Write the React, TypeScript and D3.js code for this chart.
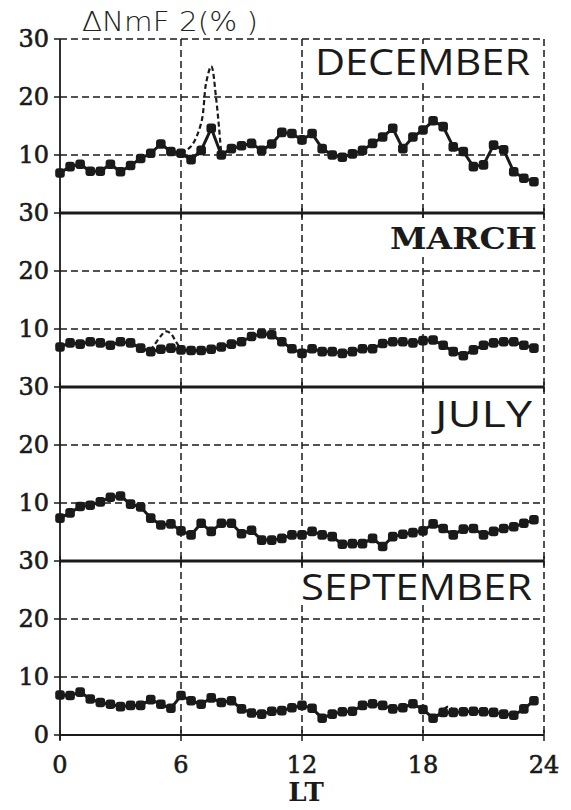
import React from 'react';
import * as d3 from 'd3';

// sample times (LT, hours)
const HOURS = [
  0, 0.5, 1, 1.5, 2, 2.5, 3, 3.5, 4, 4.5, 5, 5.5, 6, 6.5, 7, 7.5, 8, 8.5, 9, 9.5, 10, 10.5, 11, 11.5,
  12, 12.5, 13, 13.5, 14, 14.5, 15, 15.5, 16, 16.5, 17, 17.5, 18, 18.5, 19, 19.5, 20, 20.5, 21, 21.5,
  22, 22.5, 23, 23.5,
];

const DECEMBER = [
  6.9, 8.0, 8.4, 7.2, 7.2, 8.4, 7.1, 8.2, 9.4, 10.3, 11.9, 10.6, 10.3, 9.2, 10.8, 14.6, 10.0, 11.1, 11.6, 12.0,
  10.8, 11.9, 13.9, 13.7, 12.6, 13.7, 11.1, 10.0, 9.6, 10.2, 10.8, 12.0, 13.1, 14.6, 11.1, 13.1, 14.3, 15.9,
  14.9, 11.4, 10.6, 8.0, 8.3, 11.7, 10.9, 7.1, 6.0, 5.4,
];
const MARCH = [
  6.9, 7.6, 7.4, 7.8, 7.6, 7.2, 7.8, 7.6, 6.7, 6.1, 6.5, 6.7, 6.4, 6.3, 6.3, 6.5, 6.9, 7.4, 7.8, 8.7,
  9.2, 9.0, 7.8, 6.6, 5.8, 6.6, 6.1, 6.1, 5.8, 6.1, 6.6, 6.6, 7.5, 7.8, 7.8, 7.6, 8.0, 8.1,
  7.2, 6.1, 5.4, 6.4, 7.2, 7.6, 7.8, 7.8, 7.2, 6.7,
];
const JULY = [
  7.4, 8.3, 9.4, 9.6, 10.2, 11.0, 11.2, 9.8, 9.3, 7.4, 6.2, 6.4, 5.2, 4.5, 6.5, 5.1, 6.5, 6.5, 4.7, 5.3,
  3.6, 3.6, 3.9, 4.5, 4.5, 5.1, 4.5, 4.2, 2.9, 3.0, 3.0, 3.9, 2.5, 4.2, 4.6, 4.9, 5.2, 6.4,
  5.6, 4.5, 5.5, 5.6, 4.5, 5.1, 5.6, 5.9, 6.5, 7.1,
];
const SEPTEMBER = [
  6.9, 6.8, 7.4, 6.2, 5.6, 5.3, 4.9, 5.1, 5.1, 6.1, 5.3, 4.6, 6.8, 5.9, 5.3, 6.4, 5.6, 5.9, 4.5, 3.8,
  3.6, 4.1, 4.2, 4.7, 5.1, 4.6, 2.9, 3.6, 4.0, 4.1, 5.1, 5.4, 5.1, 4.5, 4.7, 5.4, 4.4, 2.9,
  3.9, 3.9, 4.0, 4.1, 4.0, 3.9, 3.6, 3.4, 4.5, 5.9,
];

// dashed curve where it leaves the dotted one
const DEC_DASH_H = [6.0, 6.5, 7.0, 7.25, 7.5, 7.75, 8.0];
const DEC_DASH_V = [10.3, 11.5, 15.5, 22.5, 25.3, 19.5, 10.0];
const MAR_DASH_H = [4.5, 5.0, 5.25, 5.5, 5.75, 6.0];
const MAR_DASH_V = [6.3, 8.8, 9.6, 9.2, 7.8, 6.5];
const SEP_DASH_H = [18.75, 19.25, 19.6];
const SEP_DASH_V = [3.5, 4.9, 3.9];
const SEP_DASH2_H = [23.5, 23.75];
const SEP_DASH2_V = [5.9, 7.0];

const PANELS = [
  { name: 'DECEMBER', values: DECEMBER, dashes: [[DEC_DASH_H, DEC_DASH_V]] },
  { name: 'MARCH', values: MARCH, dashes: [[MAR_DASH_H, MAR_DASH_V]] },
  { name: 'JULY', values: JULY, dashes: [] as number[][][] },
  { name: 'SEPTEMBER', values: SEPTEMBER, dashes: [[SEP_DASH_H, SEP_DASH_V], [SEP_DASH2_H, SEP_DASH2_V]] },
];

const X_TICKS = [0, 6, 12, 18, 24];
const Y_TICKS = [10, 20, 30];

const W = 571;
const H = 810;
const left = 60;
const right = 544;
const top = 39;
const panelH = 174;

const x = d3.scaleLinear().domain([0, 24]).range([left, right]);

const SERIF = '"DejaVu Serif", "Liberation Serif", serif';
const SANS = '"Open Sans", "Noto Sans", sans-serif';
const INK = '#1a1a1a';

const labelStyle: Record<string, { x: number; y: number; w: number; font: string; weight: number; size: number }> = {
  DECEMBER: { x: 315, y: 75, w: 215, font: SANS, weight: 400, size: 37 },
  MARCH: { x: 390, y: 249, w: 147, font: SERIF, weight: 700, size: 29 },
  JULY: { x: 435, y: 427, w: 97, font: SANS, weight: 400, size: 37 },
  SEPTEMBER: { x: 301, y: 600, w: 231, font: SANS, weight: 400, size: 37 },
};

export default function App() {
  const dash = '7,4';
  return (
    <svg width={W} height={H} style={{ position: 'absolute', left: 0, top: 0, background: '#fff' }}>
      <rect width={W} height={H} fill="#fff" />
      <text x={82} y={31} fontFamily='"DejaVu Sans", sans-serif' fontWeight={200} fontSize={27}
        fill="#222" textLength={176} lengthAdjust="spacingAndGlyphs">ΔNmF 2(% )</text>

      {PANELS.map((p, i) => {
        const y = d3.scaleLinear().domain([0, 30]).range([top + panelH * (i + 1), top + panelH * i]);
        const line = d3.line<number>().x((_, j) => x(HOURS[j])).y(v => y(v));
        const ls = labelStyle[p.name];
        return (
          <g key={p.name}>
            {/* horizontal grid */}
            {Y_TICKS.filter(t => t < 30 || i === 0).map(t => (
              <line key={t} x1={left} x2={right} y1={y(t)} y2={y(t)} stroke={INK} strokeWidth={1.5} strokeDasharray={dash} />
            ))}
            {i > 0 && (
              <line x1={left} x2={right} y1={y(30)} y2={y(30)} stroke={INK} strokeWidth={2.8} />
            )}
            {/* vertical grid */}
            {X_TICKS.slice(1).map(t => (
              <line key={t} x1={x(t)} x2={x(t)} y1={y(30)} y2={y(0)} stroke={INK} strokeWidth={1.5} strokeDasharray={dash} />
            ))}
            {i > 0 && X_TICKS.map(t => (
              <line key={'s' + t} x1={x(t)} x2={x(t)} y1={y(30) - 5} y2={y(30) + 5} stroke={INK} strokeWidth={1.5} />
            ))}
            {/* month label */}
            <rect x={ls.x - 3} y={ls.y - 31} width={ls.w + 6} height={35} fill="#fff" />
            <text x={ls.x} y={ls.y} fontFamily={ls.font} fontWeight={ls.weight} fontSize={ls.size}
              fill={INK} textLength={ls.w} lengthAdjust="spacingAndGlyphs">{p.name}</text>
            {/* y ticks */}
            {(i === 3 ? [0, ...Y_TICKS] : Y_TICKS).map(t => (
              <g key={'yt' + t}>
                <line x1={left - 6} x2={left} y1={y(t)} y2={y(t)} stroke={INK} strokeWidth={1.5} />
                <text x={49} y={y(t) + 8} textAnchor="end" fontFamily={SERIF} fontSize={24} fill={INK}
                  stroke={INK} strokeWidth={0.6}>{t}</text>
              </g>
            ))}
            {/* dashed curves */}
            {p.dashes.map(([hs, vs], k) => {
              const dl = d3.line<number>().x((_, j) => x(hs[j])).y(v => y(v)).curve(d3.curveCatmullRom);
              return <path key={k} d={dl(vs) || ''} fill="none" stroke={INK} strokeWidth={2.2} strokeDasharray="5,3" />;
            })}
            {/* dotted series */}
            <path d={line(p.values) || ''} fill="none" stroke={INK} strokeWidth={3} strokeLinejoin="round" />
            {p.values.map((v, j) => (
              <rect key={j} x={x(HOURS[j]) - 4.8} y={y(v) - 4.8} width={9.6} height={9.6} rx={3} fill={INK} />
            ))}
          </g>
        );
      })}

      {/* frame */}
      <line x1={left} x2={left} y1={top} y2={top + panelH * 4 + 5} stroke={INK} strokeWidth={1.8} />
      <line x1={left} x2={right} y1={top + panelH * 4} y2={top + panelH * 4} stroke={INK} strokeWidth={1.8} />
      {X_TICKS.map(t => (
        <g key={'xt' + t}>
          <line x1={x(t)} x2={x(t)} y1={top + panelH * 4 - 5} y2={top + panelH * 4 + 6} stroke={INK} strokeWidth={1.5} />
          <text x={x(t)} y={773} textAnchor="middle" fontFamily={SERIF} fontSize={24} fill={INK}
            stroke={INK} strokeWidth={0.6}>{t}</text>
        </g>
      ))}
      <text x={306} y={801} textAnchor="middle" fontFamily={SERIF} fontWeight={700} fontSize={26} fill={INK}>LT</text>
    </svg>
  );
}
